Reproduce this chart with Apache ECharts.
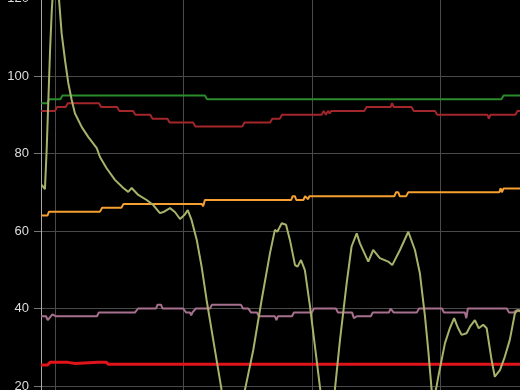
<!DOCTYPE html>
<html><head><meta charset="utf-8">
<script src="https://cdn.jsdelivr.net/npm/echarts@6/dist/echarts.min.js"></script>
<style>html,body{margin:0;padding:0;background:#000;}#c{width:520px;height:390px;}</style>
</head><body><div id="c"></div>
<script>
// y-axis ticks
const yMin = 0, yMax = 120, yStep = 20;
// x values are minutes relative to a reference hour
const xMinMinutes = -6.54, xMaxMinutes = 219.5;

const greenData = [[-6.5,93],[-3.5,93],[-2.8,94],[2.5,94],[3.5,95],[70,95],[71,94],[208.5,94],[209.5,95],[220,95]];

const darkRedData = [[-6.5,91],[0,91],[1,92],[5,92],[6,93],[20.5,93],[21.5,92],[29,92],[30,91],[36.5,91],[37.5,90],
  [44.5,90],[45.5,89],[52.5,89],[53.5,88],[64.5,88],[65.5,87],[87.5,87],[88.5,88],[100.5,88],[101.5,89],[105,89],[106,90],
  [124.5,90],[125.5,91],[126.5,90],[127.5,91],[128.3,90.3],[129,91],[144.5,91],[145.5,92],[156.8,92],[157.4,93],[158.2,92],
  [166.5,92],[167.5,91],[177.5,91],[178.5,90],[202,90],[202.6,89],[203.4,90],[215,90],[216,91],[220,91]];

const orangeData = [[-6.5,64],[-3.5,64],[-2.8,65],[21,65],[22,66],[31,66],[32,67],[68.5,67],[69.2,66.4],[70,68],
  [110.3,68],[111,69],[112,69],[112.7,68],[116,68],[116.8,69],[117.6,69],[118.2,68.2],[118.8,69],
  [158.5,69],[159.3,70],[160.3,70],[161,69],[164,69],[165,70],[207.5,70],[208.1,71],[208.7,70],[209.5,71],[220,71]];

const pinkData = [[-6.5,38],[-4.2,38],[-3.4,37],[-1.2,38.5],[-0.5,39],[0.3,38],[19.6,38],[20.5,39],[37.4,39],[38.8,40],
  [47.2,40],[47.9,41],[49.5,41],[50.2,40],[59.8,40],[61.2,39],[63,39],[63.6,38.2],[64.2,39],[65,39],[65.8,40],
  [72.4,40],[73.3,41],[86.8,41],[87.8,40],[90.3,40],[91.5,39],[94.3,39],[95.2,38],[102.7,38],[103.4,37],[104.1,38],
  [110.7,38],[111.6,39],[120,39],[120.9,40],[131.2,40],[132.1,39],[138.7,39],[139.6,37.5],[141,38],[147.5,38],[148.4,39],
  [156,39],[156.7,40],[157.4,40],[158.1,39],[169,39],[170,40],[180.7,40],[181.6,39],[191.4,39],[192.1,37.5],[192.8,40],
  [211,40],[212,39],[214.3,39],[215.3,39.5],[220,39.5]];

const redData = [[-6.5,25.4],[-3.5,25.4],[-2.3,26.1],[6,26.1],[6.5,25.8],[9.5,25.8],[10,26.1],[20,26.1],[20.3,25.7],
  [20.7,26.1],[24,26.1],[25,25.6],[220,25.6]];

const oliveData = [[-6.2,71.9],[-4.7,70.8],[-3.9,80.9],[-3.1,93.8],[-2.3,106.7],[-1.5,117],[-0.7,124],[0.5,124],
  [1.9,119.6],[3.1,111],[4.7,104],[6.2,98.2],[7.8,93.8],[9.3,90.4],[12.5,86.8],[15.5,84.3],[19.5,81.4],[21,79.1],
  [24.1,76.2],[28,73.2],[31.9,71.1],[34.2,70.1],[35.8,71.1],[38.9,69.3],[42.8,68],[45.9,66.7],[49,64.6],[50.6,64.9],
  [53.7,65.9],[56,64.9],[58.4,63.1],[60.4,64.1],[62,65.4],[63.8,62.8],[66.2,57.7],[68.5,50.7],[70.8,42.2],[73.9,31.9],
  [77.8,19],[83.1,5],[88.7,19],[92.6,29.3],[96.5,42.2],[100.4,54.3],[102.7,60.3],[103.8,59.8],[105.9,62],[107.9,61.6],
  [109.7,57.7],[112.1,51.2],[113.3,50.8],[114.9,52.5],[116.7,49.9],[119.1,40.5],[121.4,30.2],[123.7,19.9],[127,6],
  [130.7,19],[133.1,31.9],[136.2,46.5],[138.5,56],[140.9,59.4],[142.4,56.8],[146.3,52.1],[148.6,55.1],[151.7,53],
  [155.6,52.1],[157.5,51.2],[161.1,55.1],[165,59.8],[168.1,55.1],[170.4,49.1],[172.8,37.9],[174.3,29.3],[175.9,19],
  [177.2,17.5],[178.2,19.9],[179,22.4],[182.1,31],[184.4,34.9],[186.4,37.5],[188.3,34.9],[189.9,33.2],[192.2,33.6],
  [193.8,35.3],[196.1,37],[197.9,34.9],[200,35.8],[201.6,34.9],[203.9,26.7],[205.4,22.4],[207.8,24.1],[210.1,27.6],
  [212.4,31.9],[214.8,38.8],[216.3,39.6],[218,39]];

const BASE = new Date(2024, 0, 1, 12, 0, 0).getTime();
const toTime = arr => arr.map(p => [BASE + p[0] * 60000, p[1]]);

function mk(name, data, color, width) {
  return { name, type: 'line', data: toTime(data), showSymbol: false, symbol: 'none',
    lineStyle: { color, width }, itemStyle: { color }, clip: true };
}

const chart = echarts.init(document.getElementById('c'), null, { renderer: 'canvas' });
chart.setOption({
  backgroundColor: '#000',
  animation: false,
  grid: { left: 41, top: -1.5, width: 484, height: 465, containLabel: false, outerBoundsMode: 'none' },
  xAxis: {
    type: 'time',
    min: BASE + xMinMinutes * 60000,
    max: BASE + xMaxMinutes * 60000,
    minInterval: 3600000, maxInterval: 3600000,
    splitLine: { show: true, lineStyle: { color: '#4a4a4a', width: 1 } },
    axisLine: { show: false }, axisTick: { show: false }, axisLabel: { show: false }
  },
  yAxis: {
    type: 'value', min: yMin, max: yMax, interval: yStep,
    axisLine: { show: true, lineStyle: { color: '#aaa', width: 1 } },
    axisTick: { show: true, length: 7, lineStyle: { color: '#777' } },
    axisLabel: { color: '#ddd', fontSize: 13, margin: 12, fontFamily: 'Liberation Sans' },
    splitLine: { show: true, lineStyle: { color: '#4a4a4a', width: 1 } }
  },
  series: [
    mk('red', redData, '#e0141a', 3),
    mk('pink', pinkData, '#a8708f', 2),
    mk('orange', orangeData, '#f5a030', 2),
    mk('darkred', darkRedData, '#a3262b', 2),
    mk('green', greenData, '#2a8c2a', 2),
    mk('olive', oliveData, '#a9b26a', 2)
  ]
});
</script>
</body></html>
